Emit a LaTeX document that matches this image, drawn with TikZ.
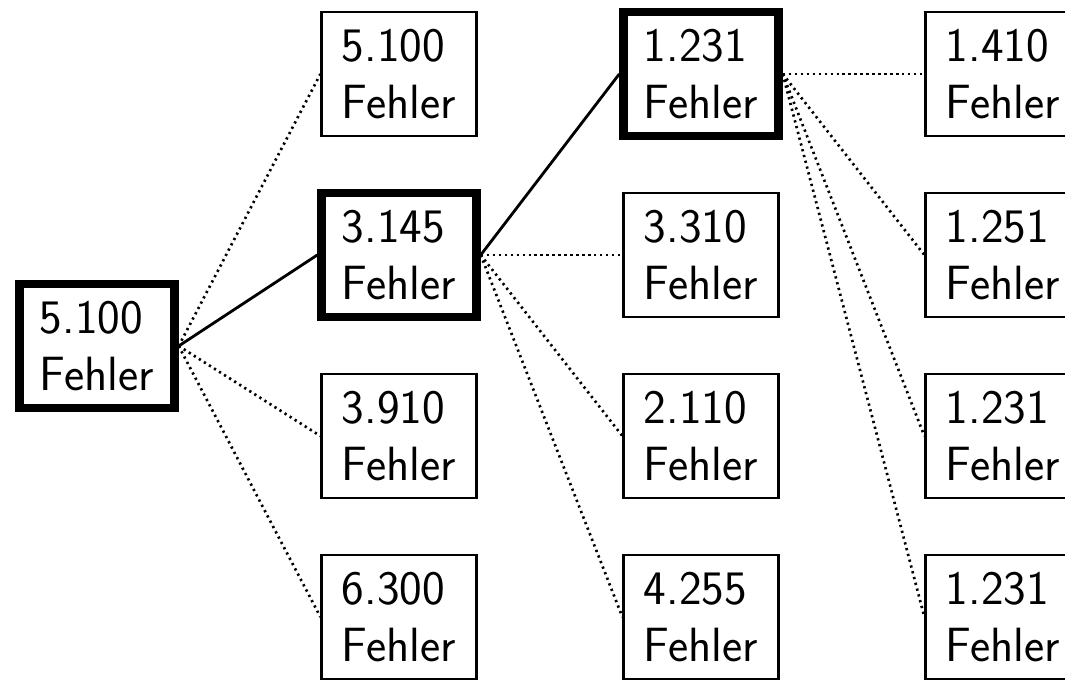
\documentclass[tikz,border=0pt]{standalone}
\usepackage{fontspec}
\usepackage{tikz}

\begin{document}
\begin{tikzpicture}[node distance={45.25mm}, line width=1.6pt,
    main/.style = {draw, rectangle, align=left, minimum width=38.75mm, minimum height=31mm,
                   font=\sffamily\fontsize{34.2}{41}\selectfont},
    best/.style = {main, line width=6pt},
    weg/.style = {line width=2pt},
    probe/.style = {line width=1.9pt, dash pattern=on 1.6pt off 2.65pt}]
    \useasboundingbox (-2.425,-8.325) rectangle (24.2,8.65);
    \clip (-2.425,-8.325) rectangle (24.2,8.65);
    \node[best] (R) {5.100\\Fehler};
    \node[main] (A1) at (7.55,6.8) {5.100\\Fehler};
    \node[best] (A2) [below of=A1] {3.145\\Fehler};
    \node[main] (A3) [below of=A2] {3.910\\Fehler};
    \node[main] (A4) [below of=A3] {6.300\\Fehler};
    \node[best] (B1) [right of=A1, node distance=75.5mm] {1.231\\Fehler};
    \node[main] (B2) [below of=B1] {3.310\\Fehler};
    \node[main] (B3) [below of=B2] {2.110\\Fehler};
    \node[main] (B4) [below of=B3] {4.255\\Fehler};
    \node[main] (C1) [right of=B1, node distance=75.5mm] {1.410\\Fehler};
    \node[main] (C2) [below of=C1] {1.251\\Fehler};
    \node[main] (C3) [below of=C2] {1.231\\Fehler};
    \node[main] (C4) [below of=C3] {1.231\\Fehler};
    \draw[probe] (R.east)--(A1.west);
    \draw[weg] (R.east)--(A2.west);
    \draw[probe] (R.east)--(A3.west);
    \draw[probe] (R.east)--(A4.west);
    \draw[weg] (A2.east)--(B1.west);
    \draw[probe] (A2.east)--(B2.west);
    \draw[probe] (A2.east)--(B3.west);
    \draw[probe] (A2.east)--(B4.west);
    \draw[probe] (B1.east)--(C1.west);
    \draw[probe] (B1.east)--(C2.west);
    \draw[probe] (B1.east)--(C3.west);
    \draw[probe] (B1.east)--(C4.west);
\end{tikzpicture}
\end{document}
